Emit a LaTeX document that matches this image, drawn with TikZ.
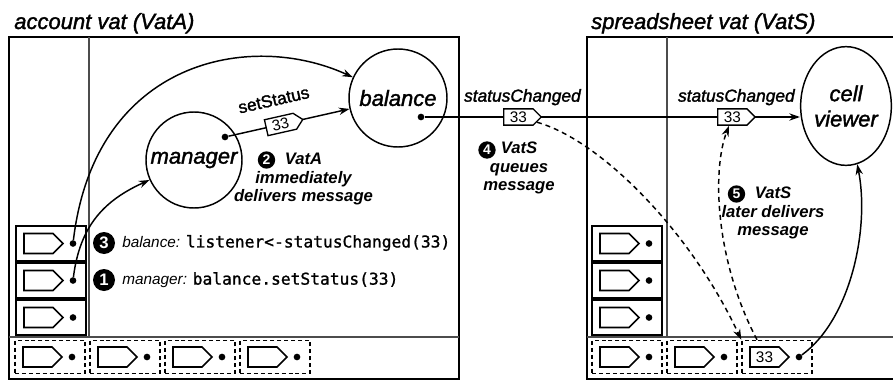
\documentclass[tikz,border=0pt]{standalone}
\usepackage{fontspec}
\setmainfont{Liberation Sans}
\setsansfont{Liberation Sans}
\setmonofont[FakeBold=1.2]{DejaVu Sans Mono}
\newfontfamily\namefont[FakeBold=1.6]{Liberation Sans}
\usepackage{tikz}
\usetikzlibrary{arrows.meta,positioning,shapes.symbols,shapes.geometric}
\tikzset{
  vat frame/.style={line width=2.2pt},
  vat rule/.style={line width=0.8pt, black!70},
  vat title/.style={font=\namefont\itshape\fontsize{16.5}{19}\selectfont, inner sep=0pt},
  obj/.style={circle, draw, line width=1.1pt, inner sep=0pt, align=center,
    font=\namefont\itshape\fontsize{16.5}{19}\selectfont},
  dot/.style={circle, fill, inner sep=0pt, minimum size=5pt},
  msg tag/.style={signal, signal to=east, draw, fill=white, line width=1pt,
    inner xsep=4.6pt, inner ysep=0pt, text height=10.2pt, text depth=2pt,
    font=\sffamily\fontsize{11.5}{13}\selectfont},
  msg label/.style={font=\namefont\itshape\fontsize{13}{15}\selectfont, inner sep=1pt},
  slot box/.style={draw, line width=1.5pt, inner sep=0pt,
    minimum width=52.5pt, minimum height=26.25pt},
  slot tag/.style={signal, signal to=east, draw, line width=1.2pt, inner sep=0pt,
    text width=21.75pt, align=center, text height=11.6pt, text depth=3.4pt,
    font=\sffamily\fontsize{11.5}{13}\selectfont},
  dashed slot/.style={slot box/.append style={line width=1.1pt,
    dash pattern=on 3pt off 2.2pt, minimum height=24.75pt}},
  qslot/.pic={
    \node[slot box] (-box) at (0,0) {};
    \node[slot tag] (-tag) at (-12.5,0) {#1};
    \node[dot] (-dot) at (22,0) {};
  },
  link/.style={line width=1.1pt, ->},
  queued/.style={link, dash pattern=on 3.75pt off 3pt},
  stepno/.style={circle, fill, text=white, inner sep=0pt, minimum size=13pt,
    font=\sffamily\bfseries\fontsize{10.5}{12}\selectfont},
  big stepno/.style={stepno, minimum size=16.5pt,
    font=\sffamily\bfseries\fontsize{12.5}{14}\selectfont},
  step text/.style={align=center, inner sep=0pt,
    font=\bfseries\itshape\fontsize{12.5}{14}\selectfont},
  code line/.style={anchor=west, inner sep=0pt, font=\itshape\fontsize{11.5}{14}\selectfont},
}
\newcommand{\codetext}[1]{{\upshape\ttfamily\fontsize{12.2}{14}\selectfont #1}}

\begin{document}
\begin{tikzpicture}[x=0.75pt, y=-0.75pt, >={Stealth[length=8pt,width=5.5pt]}]
\useasboundingbox (0,0) rectangle (893,382);
\clip (0,0) rectangle (893,382);

% the two vats
\node[vat title, anchor=base west] (titleA) at (14,29) {account vat (VatA)};
\node[vat title, anchor=base west] (titleS) at (591,29) {spreadsheet vat (VatS)};
\draw[vat frame] (9,37) rectangle (459,379);
\draw[vat rule] (89,37) -- (89,337) (9,337) -- (459,337);
\draw[vat frame] (587,37) rectangle (912,379);
\draw[vat rule] (667,37) -- (667,337) (587,337) -- (912,337);

% objects
\node[obj, minimum size=73.5pt] (balance) at (398,98) {balance};
\node[obj, minimum size=72pt] (manager) at (194,160) {manager};
\node[obj, ellipse, minimum width=68pt, minimum height=89pt] (cell) at (846,106) {cell\\viewer};
\node[dot] (baldot) at (421,117) {};
\node[dot] (mgrdot) at (225,137) {};

% stacks and queues
\pic (la1) at (51,243.5) {qslot={}};
\pic (la2) at (51,280.5) {qslot={}};
\pic (la3) at (51,317.5) {qslot={}};
\pic[dashed slot] (lq1) at (50,357) {qslot={}};
\pic[dashed slot] (lq2) at (125,357) {qslot={}};
\pic[dashed slot] (lq3) at (200,357) {qslot={}};
\pic[dashed slot] (lq4) at (275,357) {qslot={}};
\pic (ra1) at (627,243.5) {qslot={}};
\pic (ra2) at (627,280.5) {qslot={}};
\pic (ra3) at (627,317.5) {qslot={}};
\pic[dashed slot] (rq1) at (627,357) {qslot={}};
\pic[dashed slot] (rq2) at (702,357) {qslot={}};
\pic[dashed slot] (rq3) at (777,357) {qslot=33};

% messages
\draw[link] (mgrdot) -- node[msg tag, sloped, pos=0.43] (msgS) {33}
  node[msg label, sloped, pos=0.42, above=13pt, font=\namefont\fontsize{13}{15}\selectfont] (lblS) {setStatus} (balance);
\draw[link] (baldot) -- node[msg tag, pos=0.25] (msgA) {33}
  node[msg tag, pos=0.82] (msgB) {33} (baldot -| cell.west);
\node[msg label, above=1pt of msgA, xshift=3pt] (lblA) {statusChanged};
\node[msg label, above=1pt of msgB, xshift=3pt] (lblB) {statusChanged};
\draw[link] (la1-dot) .. controls (95,60) and (250,30) .. (balance);
\draw[link] (la2-dot) .. controls (80,225) and (105,200) .. (manager);
\draw[queued] (msgA) .. controls (600,140) and (690,230) .. (rq3-box.north west);
\draw[queued] ([xshift=-15pt]rq3-box.north) .. controls (715,260) and (712,170) .. (msgB);
\draw[link] (rq3-dot) .. controls (850,320) and (870,230) .. (cell);

% steps
\node[big stepno] (n3) at (104,243) {3};
\node[code line] (c3) at (122,243) {balance: \codetext{listener<-statusChanged(33)}};
\node[big stepno] (n1) at (104,280) {1};
\node[code line] (c1) at (122,280) {manager: \codetext{balance.setStatus(33)}};
\node[stepno] (n2) at (266.5,160) {2};
\node[step text] (s2) at (303.5,179) {VatA\\immediately\\delivers message};
\node[stepno] (n4) at (487,150) {4};
\node[step text] (s4) at (519,168) {VatS\\queues\\message};
\node[stepno] (n5) at (736.5,194) {5};
\node[step text] (s5) at (773,213) {VatS\\later delivers\\message};
\end{tikzpicture}
\end{document}
